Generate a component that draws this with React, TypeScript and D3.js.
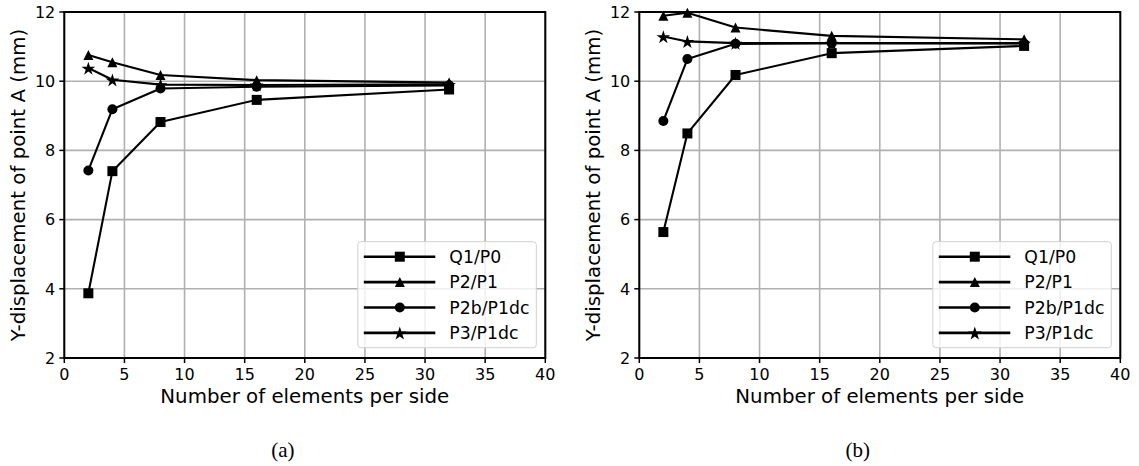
import React from "react";
import * as d3 from "d3";

const xs = [2, 4, 8, 16, 32];
const seriesNames = ["Q1/P0", "P2/P1", "P2b/P1dc", "P3/P1dc"];
const markers = ["square", "triangle", "circle", "star"];

const aQ1P0 = [3.87, 7.4, 8.82, 9.46, 9.76];
const aP2P1 = [10.76, 10.55, 10.18, 10.03, 9.96];
const aP2bP1dc = [7.42, 9.19, 9.79, 9.84, 9.88];
const aP3P1dc = [10.38, 10.04, 9.9, 9.89, 9.91];

const bQ1P0 = [5.64, 8.49, 10.18, 10.81, 11.02];
const bP2P1 = [11.89, 11.98, 11.55, 11.31, 11.21];
const bP2bP1dc = [8.85, 10.64, 11.08, 11.1, 11.09];
const bP3P1dc = [11.29, 11.15, 11.1, 11.1, 11.1];

const xTicks = [0, 5, 10, 15, 20, 25, 30, 35, 40];
const yTicks = [2, 4, 6, 8, 10, 12];
const xLabel = "Number of elements per side";
const yLabel = "Y-displacement of point A (mm)";
const captions = ["(a)", "(b)"];

const panels = [
  { left: 64.3, data: [aQ1P0, aP2P1, aP2bP1dc, aP3P1dc] },
  { left: 639.3, data: [bQ1P0, bP2P1, bP2bP1dc, bP3P1dc] },
];

const W = 481;
const TOP = 12;
const BOTTOM = 358;
const FONT = "DejaVu Sans, sans-serif";

const triPath = "M0,-5 L5,5 L-5,5 Z";

function Marker({ type, x, y }: { type: string; x: number; y: number }) {
  if (type === "square") return <rect x={x - 5} y={y - 5} width={10} height={10} fill="#000" />;
  if (type === "circle") return <circle cx={x} cy={y} r={5} fill="#000" />;
  if (type === "triangle") {
    return <path d={triPath} transform={`translate(${x},${y})`} fill="#000" />;
  }
  const s = d3.symbol(d3.symbolStar, 58)();
  return <path d={s || ""} transform={`translate(${x},${y + 0.8})`} fill="#000" />;
}

function Panel({ left, data, caption }: { left: number; data: number[][]; caption: string }) {
  const x = d3.scaleLinear().domain([0, 40]).range([left, left + W]);
  const y = d3.scaleLinear().domain([2, 12]).range([BOTTOM, TOP]);
  const line = d3.line<number>().x((_, i) => x(xs[i])).y((d) => y(d));
  const legX = left + W - 187.5;
  const legY = 241.7;
  return (
    <g>
      {xTicks.map((t) => (
        <line key={"gx" + t} x1={x(t)} x2={x(t)} y1={TOP} y2={BOTTOM} stroke="#b0b0b0" strokeWidth={1.6} />
      ))}
      {yTicks.map((t) => (
        <line key={"gy" + t} x1={left} x2={left + W} y1={y(t)} y2={y(t)} stroke="#b0b0b0" strokeWidth={1.6} />
      ))}
      <g>
        {data.map((s, i) => (
          <path key={"l" + i} d={line(s) || ""} fill="none" stroke="#000" strokeWidth={2.1} strokeLinejoin="round" />
        ))}
        {data.map((s, i) =>
          s.map((v, j) => <Marker key={`m${i}-${j}`} type={markers[i]} x={x(xs[j])} y={y(v)} />)
        )}
      </g>
      <rect x={left} y={TOP} width={W} height={BOTTOM - TOP} fill="none" stroke="#000" strokeWidth={2} />
      {xTicks.map((t) => (
        <g key={"tx" + t}>
          <line x1={x(t)} x2={x(t)} y1={BOTTOM} y2={BOTTOM + 5} stroke="#000" strokeWidth={1.5} />
          <text x={x(t)} y={BOTTOM + 22} textAnchor="middle" fontFamily={FONT} fontSize={16} fill="#000">
            {t}
          </text>
        </g>
      ))}
      {yTicks.map((t) => (
        <g key={"ty" + t}>
          <line x1={left - 5} x2={left} y1={y(t)} y2={y(t)} stroke="#000" strokeWidth={1.5} />
          <text x={left - 9} y={y(t) + 5.8} textAnchor="end" fontFamily={FONT} fontSize={16} fill="#000">
            {t}
          </text>
        </g>
      ))}
      <text x={left + W / 2} y={BOTTOM + 45} textAnchor="middle" fontFamily={FONT} fontSize={19.8} fill="#000">
        {xLabel}
      </text>
      <text
        transform={`translate(${left - 39.5},${(TOP + BOTTOM) / 2}) rotate(-90)`}
        textAnchor="middle"
        fontFamily={FONT}
        fontSize={19.8}
        fill="#000"
      >
        {yLabel}
      </text>
      <rect x={legX} y={legY} width={178.5} height={106} rx={3} fill="#fff" fillOpacity={0.8} stroke="#d0d0d0" strokeWidth={1} />
      {seriesNames.map((n, i) => {
        const ry = legY + 15 + i * 25.4;
        return (
          <g key={"lg" + i}>
            <line x1={legX + 6} x2={legX + 77.5} y1={ry} y2={ry} stroke="#000" strokeWidth={2.6} />
            <Marker type={markers[i]} x={legX + 42} y={ry} />
            <text x={legX + 91.5} y={ry + 6.3} fontFamily={FONT} fontSize={17.3} fill="#000">
              {n}
            </text>
          </g>
        );
      })}
      <text x={left + W / 2 - 22} y={457} textAnchor="middle" fontFamily="Liberation Serif, serif" fontSize={21} fill="#000">
        {caption}
      </text>
    </g>
  );
}

export default function App() {
  return (
    <svg width={1139} height={466} style={{ position: "absolute", left: 0, top: 0, background: "#fff" }}>
      <rect width={1139} height={466} fill="#fff" />
      {panels.map((p, i) => (
        <Panel key={i} left={p.left} data={p.data} caption={captions[i]} />
      ))}
    </svg>
  );
}
